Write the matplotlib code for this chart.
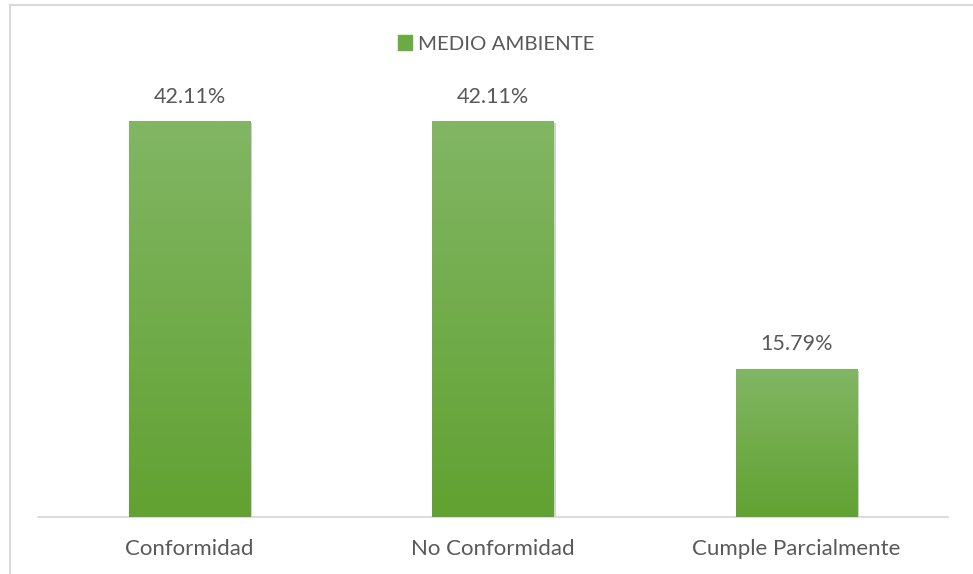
import numpy as np
import matplotlib.pyplot as plt
import matplotlib.patheffects as pe
from matplotlib.colors import LinearSegmentedColormap
from matplotlib.lines import Line2D
from matplotlib.patches import Patch

categories = ["Conformidad", "No Conformidad", "Cumple Parcialmente"]
values = [42.11, 42.11, 15.79]
series_name = "MEDIO AMBIENTE"

plt.rcParams["font.family"] = ["Lato", "DejaVu Sans"]
text_color = "#595959"
top_green = "#82b664"
bottom_green = "#61a232"

fig = plt.figure(figsize=(9.73, 5.74), dpi=100)
ax = fig.add_axes([38 / 973, 1 - 517 / 574, 910 / 973, (517 - 94) / 574])

xs = np.arange(len(categories))
bars = ax.bar(xs, values, width=0.40, color=bottom_green, zorder=2)

# shadow + vertical gradient on each bar
grad_cmap = LinearSegmentedColormap.from_list("g", [bottom_green, top_green])
grad = np.linspace(0, 1, 256).reshape(-1, 1)
for bar in bars:
    bar.set_path_effects([pe.SimplePatchShadow(offset=(1.5, -1.5), shadow_rgbFace="#9a9a9a", alpha=0.45),
                          pe.Normal()])
    x0, y0 = bar.get_x(), bar.get_y()
    im = ax.imshow(grad, cmap=grad_cmap, origin="lower", aspect="auto",
                   extent=[x0, x0 + bar.get_width(), y0, y0 + bar.get_height()], zorder=3)
    im.set_clip_path(bar)

for x, v in zip(xs, values):
    ax.text(x, v + 1.5, f"{v:.2f}%", ha="center", va="bottom", fontsize=15.5, color=text_color)

ax.set_xlim(-0.5, len(categories) - 0.5)
ax.set_ylim(0, 45)
ax.set_xticks(xs)
ax.set_xticklabels(categories, fontsize=16, color=text_color)
ax.tick_params(axis="x", length=0, pad=16)
ax.set_yticks([])
for side in ["top", "right", "left"]:
    ax.spines[side].set_visible(False)
ax.spines["bottom"].set_color("#d9d9d9")
ax.spines["bottom"].set_linewidth(1.3)

fig.legend(handles=[Patch(color="#6aab44", label=series_name)], loc="center",
           bbox_to_anchor=(496 / 973, 1 - 44 / 574), frameon=False, fontsize=14.7,
           handlelength=0.7, handleheight=0.7, handletextpad=0.3,
           labelcolor=text_color)

# outer chart border (left and top visible)
fig.add_artist(Line2D([9.5 / 973, 9.5 / 973], [0, 1 - 5 / 574], color="#d9d9d9", lw=1.5))
fig.add_artist(Line2D([9.5 / 973, 1], [1 - 5 / 574, 1 - 5 / 574], color="#d9d9d9", lw=1.5))

fig.savefig("out.png", dpi=100)
